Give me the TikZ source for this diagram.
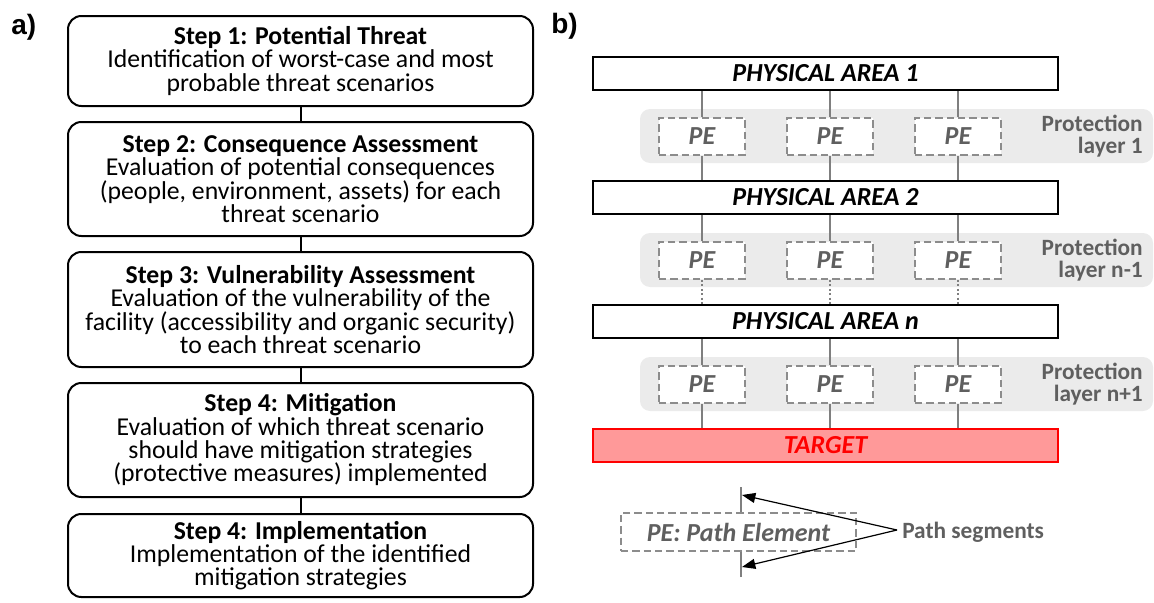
\documentclass[tikz,border=0pt]{standalone}
\usepackage{fontspec}
\setmainfont{Carlito}
\newfontfamily\labelfont{Liberation Sans}
\usetikzlibrary{arrows.meta}
\definecolor{txtgray}{HTML}{5F5F5F}
\definecolor{dashgray}{HTML}{8C8C8C}
\definecolor{linegray}{HTML}{7F7F7F}
\definecolor{bandgray}{HTML}{EBEBEB}
\definecolor{tgtfill}{HTML}{FF9999}
\definecolor{tgtred}{HTML}{FF0000}
\begin{document}
\begin{tikzpicture}[x=0.75pt,y=-0.75pt,
  stepbox/.style={draw=black, line width=1.5pt, rounded corners=10pt, fill=white,
    minimum width=348.75pt, align=center, inner sep=0pt,
    font=\fontsize{19.3}{17.5}\selectfont},
  blackconn/.style={draw=black, line width=1.5pt},
  panellabel/.style={anchor=base west, inner sep=0pt, font=\labelfont\bfseries\fontsize{21}{21}\selectfont},
  areabox/.style={draw=black, line width=1.5pt, fill=white, minimum width=348.75pt,
    minimum height=24.75pt, inner sep=0pt, font=\bfseries\itshape\fontsize{19.5}{19.5}\selectfont},
  targetbox/.style={areabox, draw=tgtred, fill=tgtfill, text=tgtred},
  band/.style={fill=bandgray, rounded corners=7.5pt, minimum width=384.75pt, minimum height=40.5pt, inner sep=0pt},
  pebox/.style={draw=dashgray, dash pattern=on 5.5pt off 3pt, line width=1.5pt, fill=white,
    minimum width=64.5pt, minimum height=27.75pt, inner sep=0pt, text=txtgray,
    font=\bfseries\itshape\fontsize{19.5}{19.5}\selectfont},
  grayconn/.style={draw=linegray, line width=1.5pt},
  dotconn/.style={draw=linegray, line width=1.5pt, dash pattern=on 1.5pt off 1.8pt},
  protlabel/.style={anchor=east, align=right, inner sep=0pt, text=txtgray,
    font=\bfseries\fontsize{17.5}{16.5}\selectfont},
  pointer/.style={draw=black, line width=0.9pt, -{Triangle[length=10pt,width=7.5pt]}}
]
\useasboundingbox (0,0) rectangle (1154,603);

% ---------- panel a ----------
\node[panellabel] (la) at (11,34) {a)};
\node[stepbox, minimum height=67.5pt] (s1) at (300.5,61)
  {\textbf{Step 1: Potential Threat}\\Identification of worst-case and most\\probable threat scenarios};
\node[stepbox, minimum height=85.5pt] (s2) at (300.5,179)
  {\textbf{Step 2: Consequence Assessment}\\Evaluation of potential consequences\\(people, environment, assets) for each\\threat scenario};
\node[stepbox, minimum height=86.25pt] (s3) at (300.5,309.5)
  {\textbf{Step 3: Vulnerability Assessment}\\Evaluation of the vulnerability of the\\facility (accessibility and organic security)\\to each threat scenario};
\node[stepbox, minimum height=85.5pt] (s4) at (300.5,440)
  {\textbf{Step 4: Mitigation}\\Evaluation of which threat scenario\\should have mitigation strategies\\(protective measures) implemented};
\node[stepbox, minimum height=62.25pt] (s5) at (300.5,555.5)
  {\textbf{Step 4: Implementation}\\Implementation of the identified\\mitigation strategies};
\draw[blackconn] (s1.south) -- (s2.north);
\draw[blackconn] (s2.south) -- (s3.north);
\draw[blackconn] (s3.south) -- (s4.north);
\draw[blackconn] (s4.south) -- (s5.north);

% ---------- panel b ----------
\node[panellabel] (lb) at (551,33) {b)};

\node[band] (band1) at (896.5,136) {};
\node[band] (band2) at (896.5,260) {};
\node[band] (band3) at (896.5,384) {};

\node[areabox] (a1) at (825.5,73.5) {PHYSICAL AREA 1};
\node[areabox] (a2) at (825.5,197.5) {PHYSICAL AREA 2};
\node[areabox] (an) at (825.5,321.5) {PHYSICAL AREA n};
\node[targetbox] (tg) at (825.5,445.5) {TARGET};

\foreach \r/\y in {1/136.5,2/260.5,3/384.5}{
  \node[pebox] (pe\r a) at (702,\y) {PE};
  \node[pebox] (pe\r b) at (830,\y) {PE};
  \node[pebox] (pe\r c) at (958,\y) {PE};
}

\foreach \c in {a,b,c}{
  \draw[grayconn] (pe1\c.north |- a1.south) -- (pe1\c.north);
  \draw[grayconn] (pe1\c.south) -- (pe1\c.south |- a2.north);
  \draw[grayconn] (pe2\c.north |- a2.south) -- (pe2\c.north);
  \draw[dotconn] (pe2\c.south) -- (pe2\c.south |- an.north);
  \draw[grayconn] (pe3\c.north |- an.south) -- (pe3\c.north);
  \draw[grayconn] (pe3\c.south) -- (pe3\c.south |- tg.north);
}

\node[protlabel] (pl1) at (1143,136) {Protection\\layer 1};
\node[protlabel] (pl2) at (1143,260) {Protection\\layer n-1};
\node[protlabel] (pl3) at (1143,384) {Protection\\layer n+1};

% ---------- legend ----------
\node[pebox, minimum width=176.25pt, minimum height=28.5pt] (pel) at (738.5,532) {PE: Path Element};
\coordinate (segT) at (741,487);
\coordinate (segB) at (741,577);
\draw[grayconn] (segT) -- (segT |- pel.north);
\draw[grayconn] (segB) -- (segB |- pel.south);
\node[anchor=west, inner sep=0pt, text=txtgray, font=\bfseries\fontsize{17.5}{17.5}\selectfont] (ps) at (902,532) {Path segments};
\coordinate (apex) at (897,530);
\coordinate (tipT) at (742,495);
\coordinate (tipB) at (742,567);
\draw[pointer] (apex) -- (tipT);
\draw[pointer] (apex) -- (tipB);
\end{tikzpicture}
\end{document}
